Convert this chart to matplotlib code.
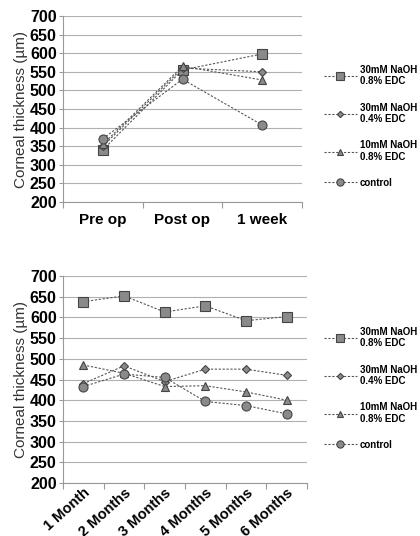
import numpy as np
import matplotlib.pyplot as plt

plt.rcParams['font.family'] = ['Liberation Sans', 'DejaVu Sans']

# early time points
early_labels = ['Pre op', 'Post op', '1 week']
early_sq = [340, 555, 598]
early_di = [350, 560, 550]
early_tr = [355, 565, 528]
early_ci = [370, 530, 407]

# late time points
late_labels = ['1 Month', '2 Months', '3 Months', '4 Months', '5 Months', '6 Months']
late_sq = [638, 652, 613, 628, 592, 602]
late_di = [440, 483, 445, 475, 475, 460]
late_tr = [485, 465, 433, 435, 420, 400]
late_ci = [433, 463, 455, 397, 387, 367]

names = ['30mM NaOH\n0.8% EDC', '30mM NaOH\n0.4% EDC', '10mM NaOH\n0.8% EDC', 'control']
markers = ['s', 'D', '^', 'o']
msizes = [6.5, 4, 5.5, 6.5]

W, H = 420, 536
fig = plt.figure(figsize=(W / 100, H / 100), dpi=100)


def draw(ax, labels, series, legend_y):
    x = np.arange(len(labels))
    for ys, m, ms, nm in zip(series, markers, msizes, names):
        ax.plot(x, ys, linestyle=(0, (2, 1.5)), color='#555555', linewidth=0.8,
                marker=m, markersize=ms, markerfacecolor='#8a8a8a',
                markeredgecolor='#444444', markeredgewidth=0.8, label=nm)
    ax.set_xlim(-0.5, len(labels) - 0.5)
    ax.set_ylim(200, 700)
    ax.set_yticks(np.arange(200, 701, 50))
    ax.yaxis.grid(True, color='#b0b0b0', linewidth=0.8)
    ax.set_axisbelow(True)
    ax.set_xticks(np.arange(-0.5, len(labels), 1.0), minor=False)
    ax.set_xticklabels([])
    ax.tick_params(axis='x', which='major', length=4, color='#999999')
    ax.tick_params(axis='y', length=3, color='#999999', labelsize=11.5, pad=1.5)
    for t in ax.get_yticklabels():
        t.set_fontweight('bold')
    for s in ['top', 'right']:
        ax.spines[s].set_visible(False)
    for s in ['left', 'bottom']:
        ax.spines[s].set_color('#999999')
    ax.set_ylabel('Corneal thickness (\u00b5m)', fontsize=11, color='#333333', labelpad=1)
    ax.legend(loc='upper left', bbox_to_anchor=(320 / W, 1 - legend_y / H),
              bbox_transform=fig.transFigure, frameon=False,
              prop={'size': 7, 'weight': 'bold'}, handlelength=3.4,
              handletextpad=0.3, labelspacing=1.65, borderaxespad=0,
              markerscale=0.8)
    return x


ax1 = fig.add_axes([63 / W, 1 - 202 / H, 239 / W, 186 / H])
x1 = draw(ax1, early_labels, [early_sq, early_di, early_tr, early_ci], 61)
ax1.set_xticks(x1, early_labels, minor=True)
ax1.tick_params(axis='x', which='minor', length=0, labelsize=11, pad=8)
for t in ax1.get_xticklabels(minor=True):
    t.set_fontweight('bold')

ax2 = fig.add_axes([63 / W, 1 - 483 / H, 244 / W, 207 / H])
x2 = draw(ax2, late_labels, [late_sq, late_di, late_tr, late_ci], 323)
ax2.set_xticks(x2, late_labels, minor=True)
ax2.tick_params(axis='x', which='minor', length=0, labelsize=10.5, pad=2)
for t in ax2.get_xticklabels(minor=True):
    t.set_fontweight('bold')
    t.set_rotation(42)
    t.set_ha('right')
    t.set_rotation_mode('anchor')

fig.savefig('out.png', dpi=100)
